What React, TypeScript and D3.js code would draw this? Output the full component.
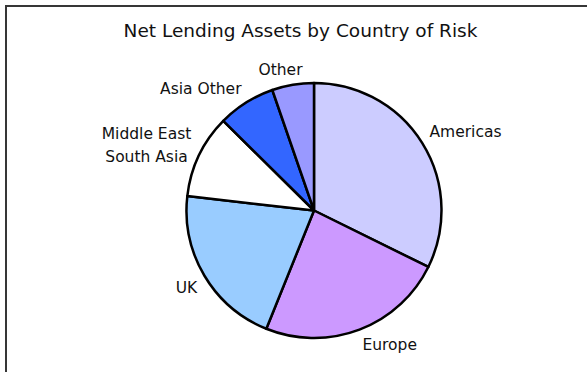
import React, { useEffect, useRef } from "react";
import * as d3 from "d3";

const categories: string[][] = [
  ["Americas"],
  ["Europe"],
  ["UK"],
  ["Middle East", "South Asia"],
  ["Asia Other"],
  ["Other"],
];
const values: number[] = [32.3, 23.8, 20.7, 10.6, 7.3, 5.3];
const colors: string[] = ["#CCCCFF", "#CC99FF", "#99CCFF", "#FFFFFF", "#3366FF", "#9999FF"];
const title = "Net Lending Assets by Country of Risk";

const W = 587;
const H = 372;

export default function App() {
  const ref = useRef<SVGSVGElement>(null);

  useEffect(() => {
    const svg = d3.select(ref.current);
    svg.selectAll("*").remove();

    svg
      .append("rect")
      .attr("x", 6)
      .attr("y", 6)
      .attr("width", 640)
      .attr("height", 420)
      .attr("fill", "#fff")
      .attr("stroke", "#363636")
      .attr("stroke-width", 2);

    svg
      .append("text")
      .attr("x", 300.5)
      .attr("y", 36.7)
      .attr("text-anchor", "middle")
      .attr("font-family", "DejaVu Sans, Verdana, sans-serif")
      .attr("font-size", 18.5)
      .attr("fill", "#111")
      .text(title);

    const cx = 314;
    const cy = 210.5;
    const R = 127.5;
    const data = values.map((v, i) => ({ v, i }));
    const pie = d3
      .pie<{ v: number; i: number }>()
      .sort(null)
      .value((d) => d.v);
    const arcs = pie(data);
    const arc = d3
      .arc<d3.PieArcDatum<{ v: number; i: number }>>()
      .innerRadius(0)
      .outerRadius(R);

    const g = svg.append("g").attr("transform", `translate(${cx},${cy})`);
    g.selectAll("path")
      .data(arcs)
      .join("path")
      .attr("d", arc as any)
      .attr("fill", (d) => colors[d.data.i])
      .attr("stroke", "#000")
      .attr("stroke-width", 2.5)
      .attr("stroke-linejoin", "round");

    const LR = 136;
    const fs = 15.5;
    const lineH = 22.3;
    arcs.forEach((a) => {
      const mid = (a.startAngle + a.endAngle) / 2;
      const sn = Math.sin(mid);
      const cs = Math.cos(mid);
      const s = Math.max(-1, Math.min(1, 3 * sn));
      const c = Math.max(-1, Math.min(1, 3 * cs));
      const lines = categories[a.data.i];
      const t = g
        .append("text")
        .attr("font-family", "DejaVu Sans, Verdana, sans-serif")
        .attr("font-size", fs)
        .attr("fill", "#111")
        .attr("text-anchor", "middle");
      lines.forEach((ln) => {
        t.append("tspan").text(ln);
      });
      let w = 0;
      t.selectAll<SVGTSpanElement, unknown>("tspan").each(function () {
        w = Math.max(w, this.getComputedTextLength());
      });
      const px = LR * sn + (w / 2) * s;
      const py = -LR * cs - 7 * c;
      const n = lines.length;
      const firstBaseline = py - ((n - 1) * lineH) / 2 + fs * 0.36;
      t.selectAll("tspan")
        .attr("x", px)
        .attr("y", (_d, k) => firstBaseline + k * lineH);
    });
  }, []);

  return (
    <svg
      ref={ref}
      width={W}
      height={H}
      style={{ position: "absolute", left: 0, top: 0, display: "block" }}
    />
  );
}
